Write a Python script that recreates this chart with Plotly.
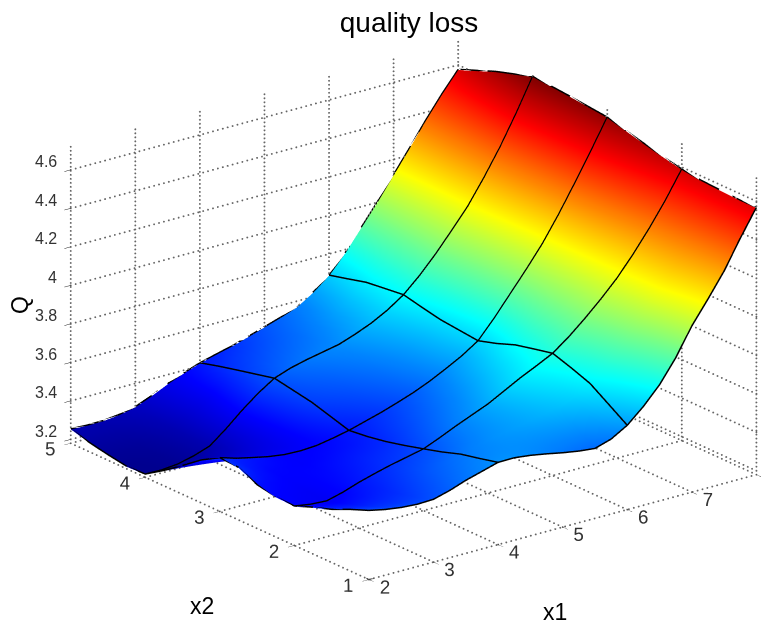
import numpy as np
import plotly.graph_objects as go

x1_vals = [2, 2.25, 2.5, 2.75, 3, 3.25, 3.5, 3.75, 4, 4.25, 4.5, 4.75, 5, 5.25, 5.5, 5.75, 6, 6.25, 6.5, 6.75, 7, 7.25, 7.5, 7.75, 8]
x2_vals = [1, 1.25, 1.5, 1.75, 2, 2.25, 2.5, 2.75, 3, 3.25, 3.5, 3.75, 4, 4.25, 4.5, 4.75, 5]

q_x2_1_00 = [3.536, 3.518, 3.506, 3.50, 3.503, 3.526, 3.556, 3.58, 3.604, 3.605, 3.595, 3.58, 3.563, 3.549, 3.54, 3.566, 3.615, 3.69, 3.78, 3.897, 4.04, 4.157, 4.28, 4.427, 4.565]
q_x2_1_25 = [3.497, 3.478, 3.466, 3.465, 3.475, 3.502, 3.532, 3.558, 3.58, 3.592, 3.597, 3.597, 3.596, 3.598, 3.605, 3.632, 3.68, 3.75, 3.835, 3.943, 4.07, 4.18, 4.295, 4.43, 4.565]
q_x2_1_50 = [3.453, 3.438, 3.43, 3.438, 3.45, 3.48, 3.51, 3.535, 3.558, 3.58, 3.60, 3.615, 3.63, 3.648, 3.67, 3.70, 3.744, 3.81, 3.89, 3.99, 4.10, 4.205, 4.31, 4.435, 4.57]
q_x2_1_75 = [3.42, 3.404, 3.396, 3.41, 3.43, 3.458, 3.485, 3.505, 3.525, 3.555, 3.585, 3.61, 3.635, 3.665, 3.70, 3.735, 3.78, 3.84, 3.92, 4.01, 4.105, 4.21, 4.32, 4.44, 4.575]
q_x2_2_00 = [3.382, 3.368, 3.363, 3.385, 3.414, 3.438, 3.46, 3.478, 3.497, 3.532, 3.57, 3.605, 3.64, 3.685, 3.73, 3.77, 3.812, 3.875, 3.948, 4.027, 4.113, 4.215, 4.327, 4.45, 4.587]
q_x2_2_25 = [3.386, 3.376, 3.37, 3.383, 3.40, 3.42, 3.44, 3.455, 3.47, 3.505, 3.54, 3.573, 3.607, 3.65, 3.695, 3.74, 3.79, 3.855, 3.935, 4.02, 4.115, 4.222, 4.34, 4.47, 4.607]
q_x2_2_50 = [3.404, 3.39, 3.38, 3.383, 3.39, 3.405, 3.42, 3.432, 3.446, 3.478, 3.51, 3.542, 3.575, 3.615, 3.66, 3.71, 3.767, 3.84, 3.925, 4.015, 4.115, 4.23, 4.355, 4.49, 4.63]
q_x2_2_75 = [3.45, 3.412, 3.39, 3.384, 3.38, 3.388, 3.40, 3.412, 3.428, 3.458, 3.485, 3.515, 3.548, 3.585, 3.63, 3.675, 3.73, 3.815, 3.91, 4.01, 4.115, 4.237, 4.37, 4.51, 4.655]
q_x2_3_00 = [3.456, 3.43, 3.411, 3.393, 3.381, 3.378, 3.383, 3.398, 3.416, 3.44, 3.464, 3.492, 3.522, 3.558, 3.60, 3.645, 3.70, 3.795, 3.90, 4.005, 4.116, 4.245, 4.385, 4.53, 4.68]
q_x2_3_25 = [3.40, 3.372, 3.355, 3.345, 3.342, 3.355, 3.38, 3.412, 3.445, 3.465, 3.486, 3.51, 3.537, 3.57, 3.61, 3.655, 3.71, 3.80, 3.905, 4.01, 4.12, 4.25, 4.387, 4.535, 4.69]
q_x2_3_50 = [3.327, 3.31, 3.30, 3.302, 3.31, 3.34, 3.38, 3.43, 3.474, 3.493, 3.51, 3.532, 3.555, 3.585, 3.62, 3.665, 3.72, 3.81, 3.91, 4.015, 4.125, 4.255, 4.39, 4.54, 4.70]
q_x2_3_75 = [3.257, 3.25, 3.248, 3.258, 3.278, 3.325, 3.385, 3.443, 3.492, 3.517, 3.535, 3.555, 3.575, 3.605, 3.64, 3.685, 3.74, 3.825, 3.92, 4.022, 4.13, 4.258, 4.393, 4.545, 4.708]
q_x2_4_00 = [3.194, 3.192, 3.20, 3.22, 3.249, 3.315, 3.389, 3.455, 3.51, 3.54, 3.561, 3.578, 3.595, 3.625, 3.66, 3.705, 3.762, 3.84, 3.93, 4.03, 4.134, 4.26, 4.397, 4.55, 4.715]
q_x2_4_25 = [3.19, 3.195, 3.202, 3.22, 3.248, 3.307, 3.37, 3.433, 3.487, 3.515, 3.536, 3.554, 3.572, 3.602, 3.64, 3.688, 3.75, 3.83, 3.92, 4.022, 4.13, 4.255, 4.386, 4.53, 4.683]
q_x2_4_50 = [3.206, 3.206, 3.21, 3.225, 3.25, 3.30, 3.35, 3.41, 3.464, 3.488, 3.51, 3.53, 3.55, 3.58, 3.62, 3.672, 3.738, 3.82, 3.91, 4.015, 4.125, 4.25, 4.375, 4.51, 4.652]
q_x2_4_75 = [3.225, 3.225, 3.228, 3.24, 3.26, 3.305, 3.35, 3.397, 3.44, 3.463, 3.483, 3.505, 3.53, 3.558, 3.593, 3.645, 3.712, 3.80, 3.90, 4.008, 4.121, 4.243, 4.366, 4.49, 4.613]
q_x2_5_00 = [3.252, 3.248, 3.249, 3.258, 3.276, 3.31, 3.35, 3.383, 3.413, 3.435, 3.456, 3.482, 3.509, 3.536, 3.567, 3.62, 3.687, 3.78, 3.89, 4.00, 4.118, 4.236, 4.357, 4.47, 4.574]
q_rows = [q_x2_1_00, q_x2_1_25, q_x2_1_50, q_x2_1_75, q_x2_2_00, q_x2_2_25, q_x2_2_50, q_x2_2_75, q_x2_3_00,
          q_x2_3_25, q_x2_3_50, q_x2_3_75, q_x2_4_00, q_x2_4_25, q_x2_4_50, q_x2_4_75, q_x2_5_00]

x1_ticks = [2, 3, 4, 5, 6, 7, 8]
x1_labels = ["2", "3", "4", "5", "6", "7", ""]
x2_ticks = [1, 2, 3, 4, 5]
q_ticks = [3.2, 3.4, 3.6, 3.8, 4, 4.2, 4.4, 4.6]
q_labels = ["3.2", "3.4", "3.6", "3.8", "4", "4.2", "4.4", "4.6"]
x1_range = [2, 8]
x2_range = [1, 5]
q_range = [3.18, 4.72]
mesh_x1 = [2, 4, 6, 8]
mesh_x2 = [1, 2, 3, 4, 5]
mesh_lift = 0.003

jet = [[0, "rgb(0,0,143)"], [0.125, "rgb(0,0,255)"], [0.375, "rgb(0,255,255)"],
       [0.625, "rgb(255,255,0)"], [0.875, "rgb(255,0,0)"], [1, "rgb(128,0,0)"]]

fig = go.Figure()
fig.add_trace(go.Surface(x=x1_vals, y=x2_vals, z=q_rows, colorscale=jet, cmin=3.19, cmax=4.715,
                         showscale=False, hoverinfo="skip",
                         lighting=dict(ambient=1, diffuse=0, specular=0, roughness=1, fresnel=0)))

# dotted grid, drawn as rows of small dots
gx, gy, gz = [], [], []
def seg(a, b, n):
    gx.extend(np.linspace(a[0], b[0], n).tolist())
    gy.extend(np.linspace(a[1], b[1], n).tolist())
    gz.extend(np.linspace(a[2], b[2], n).tolist())
for t in x1_ticks:
    seg((t, x2_range[0], q_range[0]), (t, x2_range[1], q_range[0]), 70)
    seg((t, x2_range[1], q_range[0]), (t, x2_range[1], q_range[1]), 75)
for t in x2_ticks:
    seg((x1_range[0], t, q_range[0]), (x1_range[1], t, q_range[0]), 80)
    seg((x1_range[1], t, q_range[0]), (x1_range[1], t, q_range[1]), 75)
for t in q_ticks:
    seg((x1_range[0], x2_range[1], t), (x1_range[1], x2_range[1], t), 80)
    seg((x1_range[1], x2_range[1], t), (x1_range[1], x2_range[0], t), 70)
fig.add_trace(go.Scatter3d(x=gx, y=gy, z=gz, mode="markers", hoverinfo="skip", showlegend=False,
                           marker=dict(color="#666666", size=1.1, line=dict(width=0))))

# axis lines on the floor
fig.add_trace(go.Scatter3d(x=[x1_range[0], x1_range[1], None, x1_range[0], x1_range[0]],
                           y=[x2_range[0], x2_range[0], None, x2_range[0], x2_range[1]],
                           z=[q_range[0]] * 2 + [None] + [q_range[0]] * 2,
                           mode="lines", hoverinfo="skip", showlegend=False,
                           line=dict(color="#222222", width=2)))

# mesh lines on the surface
mx, my, mz = [], [], []
for v in mesh_x1:
    i = x1_vals.index(v)
    for j, y in enumerate(x2_vals):
        mx.append(v); my.append(y); mz.append(q_rows[j][i] + mesh_lift)
    mx.append(None); my.append(None); mz.append(None)
for v in mesh_x2:
    j = x2_vals.index(v)
    for i, x in enumerate(x1_vals):
        mx.append(x); my.append(v); mz.append(q_rows[j][i] + mesh_lift)
    mx.append(None); my.append(None); mz.append(None)
fig.add_trace(go.Scatter3d(x=mx, y=my, z=mz, mode="lines", hoverinfo="skip", showlegend=False,
                           line=dict(color="black", width=3)))

tickfont = dict(family="Liberation Sans", size=15, color="#333333")
def ax(vals, rng, labels=True, text=None):
    d = dict(range=rng, tickmode="array", tickvals=vals, showgrid=False, zeroline=False,
             showline=False, showbackground=False, showspikes=False, ticks="outside", ticklen=8,
             tickangle=0, tickcolor="#222222", tickfont=tickfont, showticklabels=labels, title=dict(text=""))
    if text:
        d["ticktext"] = text
    return d

W, H = 761, 615   # the page adds an 8 px body margin
def px(x):
    return (x - 8) / W
def py(y):
    return 1 - (y - 8) / H

axis_font = dict(family="Liberation Sans", size=23, color="black")
scene_notes = [dict(x=x1_range[0], y=x2_range[1], z=t, text=s, showarrow=False, xanchor="right", yanchor="middle",
                    xshift=-12, yshift=8, font=dict(family="Liberation Sans", size=16, color="#333333"))
               for t, s in zip(q_ticks, q_labels)]
scene_notes.append(dict(x=x1_range[1], y=x2_range[0], z=q_range[0], text="8", showarrow=False,
                        xanchor="left", yanchor="middle", xshift=9, yshift=-8, font=tickfont))
fig.update_layout(
    width=W, height=H, margin=dict(l=0, r=0, t=0, b=0), showlegend=False,
    paper_bgcolor="white",
    title=dict(text="quality loss", x=px(409), y=py(22), xref="container", yref="container",
               xanchor="center", yanchor="middle",
               font=dict(family="Liberation Sans", size=28, color="black")),
    scene=dict(
        domain=dict(x=[0, 1], y=[0, 1]),
        xaxis=ax(x1_ticks, x1_range, text=x1_labels), yaxis=ax(x2_ticks, x2_range),
        zaxis=ax(q_ticks, q_range, labels=False),
        aspectmode="manual", aspectratio=dict(x=1.59, y=1.59, z=1.03),
        camera=dict(projection=dict(type="orthographic"),
                    up=dict(x=0, y=0, z=1), center=dict(x=-0.0645, y=0.0498, z=-0.0168),
                    eye=dict(x=-0.801, y=-0.907, z=0.437)),
        annotations=scene_notes,
    ),
    annotations=[
        dict(text="Q", x=px(20), y=py(305), xref="paper", yref="paper", showarrow=False, textangle=-90,
             xanchor="center", yanchor="middle", font=axis_font),
        dict(text="x2", x=px(202), y=py(606), xref="paper", yref="paper", showarrow=False,
             xanchor="center", yanchor="middle", font=axis_font),
        dict(text="x1", x=px(555), y=py(612), xref="paper", yref="paper", showarrow=False,
             xanchor="center", yanchor="middle", font=axis_font),
    ],
)
fig.write_html("out.html")
